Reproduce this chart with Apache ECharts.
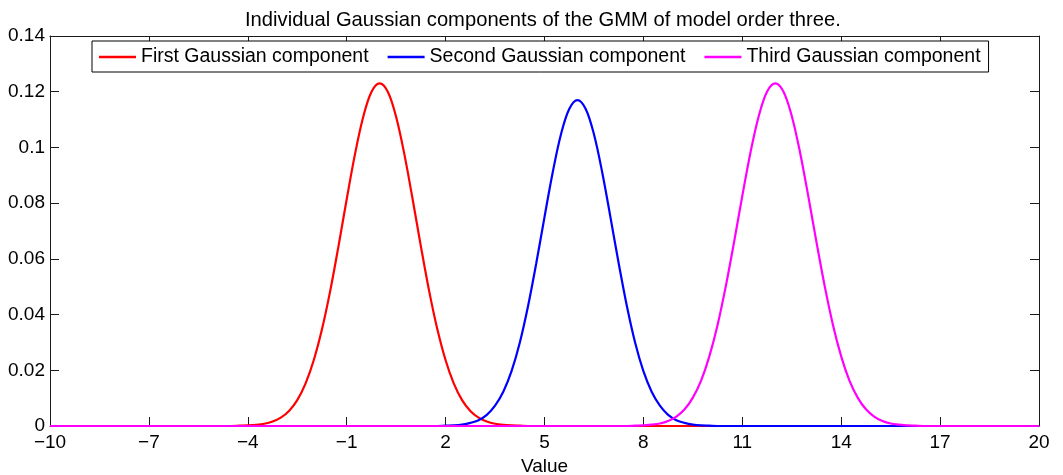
<!DOCTYPE html>
<html>
<head>
<meta charset="utf-8">
<title>GMM components</title>
<script src="https://cdn.jsdelivr.net/npm/echarts@6/dist/echarts.min.js"></script>
<style>
html, body { margin: 0; padding: 0; background: #fff; }
#main { width: 1063px; height: 475px; }
</style>
</head>
<body>
<div id="main"></div>
<script>
// values
const firstX = [-10, -4.5, -4.25, -4, -3.75, -3.5, -3.25, -3, -2.75, -2.5, -2.25, -2, -1.75, -1.5, -1.25, -1, -0.75, -0.5, -0.25, 0,
  0.25, 0.5, 0.75, 1, 1.25, 1.5, 1.75, 2, 2.25, 2.5, 2.75, 3, 3.25, 3.5, 3.75, 4, 4.25, 4.5, 20]
const firstY = [0, 0, 0.0001, 0.0002, 0.0004, 0.0008, 0.0016, 0.0030, 0.0054, 0.0093, 0.0152, 0.0236, 0.0347, 0.0485, 0.0645, 0.0814, 0.0975, 0.1109, 0.1199, 0.1230,
  0.1199, 0.1109, 0.0975, 0.0814, 0.0645, 0.0485, 0.0347, 0.0236, 0.0152, 0.0093, 0.0054, 0.0030, 0.0016, 0.0008, 0.0004, 0.0002, 0.0001, 0, 0]

const secondX = [-10, 1.75, 2, 2.25, 2.5, 2.75, 3, 3.25, 3.5, 3.75, 4, 4.25, 4.5, 4.75, 5, 5.25, 5.5, 5.75, 6,
  6.25, 6.5, 6.75, 7, 7.25, 7.5, 7.75, 8, 8.25, 8.5, 8.75, 9, 9.25, 9.5, 9.75, 10, 10.25, 20]
const secondY = [0, 0, 0.0001, 0.0002, 0.0005, 0.0011, 0.0021, 0.0040, 0.0073, 0.0123, 0.0197, 0.0299, 0.0430, 0.0584, 0.0750, 0.0911, 0.1047, 0.1138, 0.1170,
  0.1138, 0.1047, 0.0911, 0.0750, 0.0584, 0.0430, 0.0299, 0.0197, 0.0123, 0.0073, 0.0040, 0.0021, 0.0011, 0.0005, 0.0002, 0.0001, 0, 0]

const thirdX = [-10, 7.5, 7.75, 8, 8.25, 8.5, 8.75, 9, 9.25, 9.5, 9.75, 10, 10.25, 10.5, 10.75, 11, 11.25, 11.5, 11.75, 12,
  12.25, 12.5, 12.75, 13, 13.25, 13.5, 13.75, 14, 14.25, 14.5, 14.75, 15, 15.25, 15.5, 15.75, 16, 16.25, 16.5, 20]
const thirdY = [0, 0, 0.0001, 0.0002, 0.0005, 0.0009, 0.0018, 0.0034, 0.0060, 0.0102, 0.0163, 0.0250, 0.0363, 0.0502, 0.0660, 0.0826, 0.0983, 0.1113, 0.1200, 0.1230,
  0.1200, 0.1113, 0.0983, 0.0826, 0.0660, 0.0502, 0.0363, 0.0250, 0.0163, 0.0102, 0.0060, 0.0034, 0.0018, 0.0009, 0.0005, 0.0002, 0.0001, 0, 0]

const seriesNames = ['First Gaussian component', 'Second Gaussian component', 'Third Gaussian component']
const seriesColors = ['#ff0000', '#0000ff', '#ff00ff']

const font = "'Liberation Sans', Arial, sans-serif"

function pairs(xs, ys){
  return xs.map((x, i) => [x, ys[i]])
}

const minus = v => String(v).replace('-', '\u2212')

// box round the plot, ticks inside on all four sides
const axisLine = { show: true, onZero: false, lineStyle: { color: '#1a1a1a', width: 1 } }
const tick = { show: true, inside: true, length: 9, lineStyle: { color: '#1a1a1a' } }

const option = {
  animation: false,
  title: {
    text: 'Individual Gaussian components of the GMM of model order three.',
    left: 245,
    top: 10,
    padding: 0,
    textStyle: { fontFamily: font, fontSize: 20.2, fontWeight: 'normal', color: '#000' }
  },
  legend: {
    data: seriesNames,
    left: 92,
    top: 41,
    padding: [6, 8, 5, 7],
    itemGap: 19,
    itemWidth: 37,
    itemHeight: 2.5,
    icon: 'rect',
    borderColor: '#000',
    borderWidth: 1,
    borderRadius: 0,
    backgroundColor: '#fff',
    textStyle: { fontFamily: font, fontSize: 19.5, color: '#000' }
  },
  grid: {
    left: 50,
    right: 24,
    top: 36,
    bottom: 49,
    outerBoundsMode: 'none',
    containLabel: false
  },
  xAxis: [
    {
      type: 'value',
      min: -10,
      max: 20,
      interval: 3,
      name: 'Value',
      nameLocation: 'middle',
      nameGap: 27,
      nameTextStyle: { fontFamily: font, fontSize: 19, color: '#000' },
      axisLine: axisLine,
      axisTick: tick,
      splitLine: { show: false },
      axisLabel: {
        fontFamily: font, fontSize: 19, color: '#000', margin: 7,
        showMinLabel: true, showMaxLabel: true, hideOverlap: false,
        formatter: minus
      }
    },
    {
      type: 'value',
      position: 'top',
      min: -10,
      max: 20,
      interval: 3,
      axisLine: axisLine,
      axisTick: tick,
      splitLine: { show: false },
      axisLabel: { show: false }
    }
  ],
  yAxis: [
    {
      type: 'value',
      min: 0,
      max: 0.14,
      interval: 0.02,
      axisLine: axisLine,
      axisTick: tick,
      splitLine: { show: false },
      axisLabel: {
        fontFamily: font, fontSize: 19, color: '#000', margin: 5,
        showMinLabel: true, showMaxLabel: true, hideOverlap: false
      }
    },
    {
      type: 'value',
      position: 'right',
      min: 0,
      max: 0.14,
      interval: 0.02,
      axisLine: axisLine,
      axisTick: tick,
      splitLine: { show: false },
      axisLabel: { show: false }
    }
  ],
  series: [
    { x: firstX, y: firstY },
    { x: secondX, y: secondY },
    { x: thirdX, y: thirdY }
  ].map((s, i) => ({
    name: seriesNames[i],
    type: 'line',
    data: pairs(s.x, s.y),
    smooth: 0.35,
    symbol: 'none',
    clip: false,
    color: seriesColors[i],
    lineStyle: { color: seriesColors[i], width: 2.2 },
    z: 3 + i
  }))
}

const chart = echarts.init(document.getElementById('main'))
chart.setOption(option)
</script>
</body>
</html>
